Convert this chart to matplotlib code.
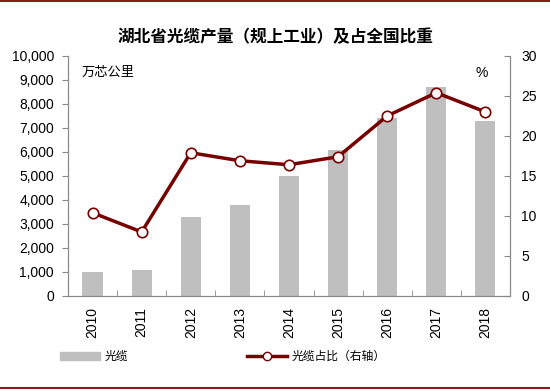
import numpy as np
import matplotlib.pyplot as plt
from matplotlib.lines import Line2D

plt.rcParams['font.family'] = ['Noto Sans CJK SC', 'DejaVu Sans']

# Data
years = ["2010", "2011", "2012", "2013", "2014", "2015", "2016", "2017", "2018"]
output = [1000, 1100, 3300, 3800, 5000, 6100, 7400, 8700, 7300]      # 万芯公里
share = [10.4, 8.0, 17.9, 16.9, 16.4, 17.4, 22.5, 25.4, 23.0]         # %

bar_color = "#BFBFBF"
line_color = "#760000"
spine_color = "#898989"
num_font = "Liberation Sans"

fig = plt.figure(figsize=(5.5, 3.91), dpi=100)
ax = fig.add_axes([0.1236, 0.243, 0.8036, 0.614])
ax2 = ax.twinx()

x = np.arange(len(years))
ax.bar(x, output, width=0.41, color=bar_color, zorder=2)
ax2.plot(x, share, color=line_color, lw=2.5, marker="o", markersize=7.5,
         markerfacecolor="white", markeredgecolor=line_color, markeredgewidth=1.2,
         zorder=3)

ax.set_xlim(-0.5, len(years) - 0.5)
ax.set_ylim(0, 10000)
ax2.set_ylim(0, 30)
ax.set_yticks(np.arange(0, 10001, 1000))
ax.set_yticklabels([f"{v:,}" for v in range(0, 10001, 1000)],
                   fontsize=10, family=num_font)
ax2.set_yticks(np.arange(0, 31, 5))
ax2.set_yticklabels([str(v) for v in range(0, 31, 5)], fontsize=10, family=num_font)

ax.set_xticks(x)
ax.set_xticklabels(years, rotation=90, fontsize=10, family=num_font)
ax.tick_params(axis="x", length=0, pad=8)
ax.set_xticks(np.arange(-0.5, len(years)), minor=True)
ax.tick_params(axis="x", which="minor", direction="in", length=4, color=spine_color)
ax.tick_params(axis="y", direction="out", length=4, color=spine_color, pad=6)
ax2.tick_params(axis="y", direction="in", length=4, color=spine_color, pad=8)

for a in (ax, ax2):
    for s in a.spines.values():
        s.set_color(spine_color)
    a.spines["top"].set_visible(False)

ax.text(0.03, 0.96, "万芯公里", transform=ax.transAxes, fontsize=9.5,
        va="top", ha="left")
ax2.text(0.95, 0.96, "%", transform=ax.transAxes, fontsize=10,
         va="top", ha="right", family=num_font)

fig.text(0.5, 0.905, "湖北省光缆产量（规上工业）及占全国比重", ha="center",
         va="center", fontsize=12, fontweight="bold")

# legend
handles = [
    plt.Rectangle((0, 0), 1, 1, color=bar_color),
    Line2D([0], [0], color=line_color, lw=2.5, marker="o", markersize=6,
           markerfacecolor="white", markeredgecolor=line_color),
]
fig.legend(handles, ["光缆", "光缆占比（右轴）"], loc="center",
           bbox_to_anchor=(0.405, 0.088), ncol=2, frameon=False, fontsize=8.5,
           columnspacing=10, handlelength=3.4, handleheight=0.6, handletextpad=0.4)

# top and bottom rule lines
fig.add_artist(Line2D([0, 1], [0.997, 0.997], color="#8B1A1A", lw=1.5))
fig.add_artist(Line2D([0, 1], [0.008, 0.008], color="#8B1A1A", lw=1.5))

fig.savefig("out.png", dpi=100)
